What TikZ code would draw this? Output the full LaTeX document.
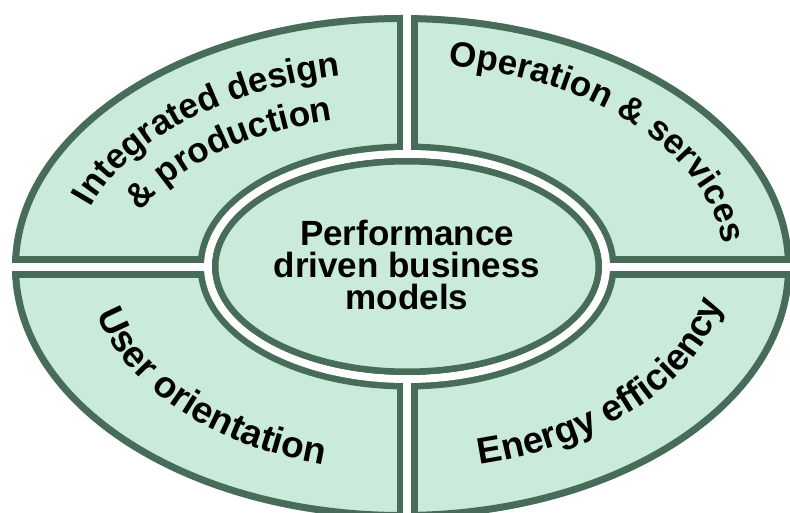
\documentclass[tikz,border=0pt]{standalone}
\usepackage{fontspec}
\setmainfont{Liberation Sans}
\usetikzlibrary{decorations.text}
\definecolor{qfill}{RGB}{203,235,218}
\definecolor{qline}{RGB}{72,108,90}
\newcommand\lblfont{\fontsize{35}{35}\selectfont\bfseries}
\newcommand\lowfont{\fontsize{37}{37}\selectfont\bfseries}
\tikzset{
  lbl/.style={decorate, decoration={text along path, text align=center, text color=black}},
  gapdark/.style={draw=qline, line width=21pt},
  gapwhite/.style={draw=white, line width=8pt},
}
\begin{document}
\begin{tikzpicture}[x=1pt,y=1pt]
\useasboundingbox (0,0) rectangle (790,-513);
\clip (0,0) rectangle (790,-513);
\coordinate (C) at (407,-267);
\coordinate (O) at (402,-267);
\coordinate (R) at (407,-266.5);
\coordinate (top) at (407,10);
\coordinate (bot) at (407,-530);
\coordinate (lft) at (-10,-267);
\coordinate (rgt) at (800,-267);
% outer ellipse
\fill[qfill] (O) ellipse [x radius=390pt, y radius=252pt];
\draw[qline, line width=7pt] (O) ellipse [x radius=386.5pt, y radius=248.5pt];
% dark borders of the gaps
\begin{scope}
  \clip (O) ellipse [x radius=390pt, y radius=252pt];
  \path[gapdark] (top) -- (bot);
  \path[gapdark] (lft) -- (rgt);
  \path[gapdark] (R) ellipse [x radius=199pt, y radius=112.5pt];
\end{scope}
% white gaps
\path[gapwhite] (top) -- (bot);
\path[gapwhite] (lft) -- (rgt);
\path[gapwhite] (R) ellipse [x radius=199pt, y radius=112.5pt];
% inner ellipse
\filldraw[fill=qfill, draw=qline, line width=6.5pt] (R) ellipse [x radius=191.75pt, y radius=105.25pt];
\node[align=center, font=\fontsize{35}{32}\selectfont\bfseries, inner sep=0pt] (centre) at (407,-265) {Performance\\driven business\\models};
% curved labels
\begin{scope}[shift={(C)}]
  \path[lbl, decoration={text={|\lblfont|Integrated design}}] (171:332pt and 195pt) arc[start angle=171, end angle=96, x radius=332pt, y radius=195pt];
  \path[lbl, decoration={text={|\lblfont|{\&} production}}] (169:285pt and 152pt) arc[start angle=169, end angle=99, x radius=285pt, y radius=152pt];
  \path[lbl, decoration={text={|\lblfont|Operation {\&} services}}] (86:318pt and 203pt) arc[start angle=86, end angle=1, x radius=318pt, y radius=203pt];
  \path[lbl, decoration={text={|\lowfont|User orientation}}] (190:318pt and 205pt) arc[start angle=190, end angle=257, x radius=318pt, y radius=205pt];
  \path[lbl, decoration={text={|\lowfont|Energy efficiency}}] (-77:320pt and 203pt) arc[start angle=-77, end angle=-10, x radius=320pt, y radius=203pt];
\end{scope}
\end{tikzpicture}
\end{document}
